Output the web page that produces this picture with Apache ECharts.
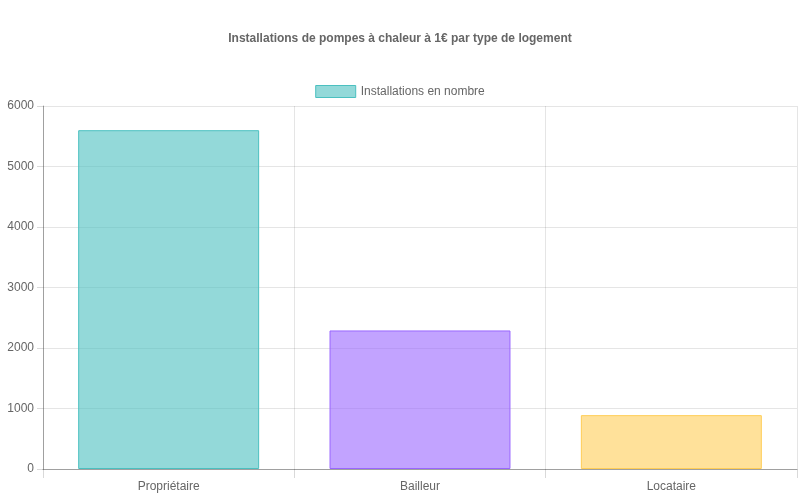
<!DOCTYPE html>
<html lang="fr">
<head>
<meta charset="UTF-8" />
<title>Pompes à chaleur</title>
<script src="https://cdn.jsdelivr.net/npm/echarts@6/dist/echarts.min.js"></script>
<style>
  html, body { margin: 0; padding: 0; background: #fff; }
  #chart { width: 800px; height: 500px; }
</style>
</head>
<body>
<div id="chart"></div>
<script>
const categories = ['Propriétaire', 'Bailleur', 'Locataire'];
const installations = [5600, 2290, 890];
const fills = ['rgba(75,192,192,0.6)', 'rgba(153,102,255,0.6)', 'rgba(255,205,86,0.6)'];
const borders = ['rgb(75,192,192)', 'rgb(153,102,255)', 'rgb(255,205,86)'];

const chart = echarts.init(document.getElementById('chart'));
const font = 'Liberation Sans, Arial, sans-serif';

chart.setOption({
    animation: false,
    textStyle: { fontFamily: font },
    title: {
        text: 'Installations de pompes à chaleur à 1€ par type de logement',
        left: 'center',
        top: 28,
        textStyle: { fontSize: 12, fontWeight: 'bold', color: '#666', fontFamily: font }
    },
    legend: {
        top: 80,
        left: 'center',
        itemWidth: 40,
        itemHeight: 12,
        itemGap: 10,
        icon: 'rect',
        textStyle: { fontSize: 12, color: '#666', fontFamily: font },
        data: [{
            name: 'Installations en nombre',
            itemStyle: { color: fills[0], borderColor: borders[0], borderWidth: 1 }
        }]
    },
    grid: { left: 43, right: 3, top: 106, bottom: 31, containLabel: false },
    xAxis: {
        type: 'category',
        data: categories,
        boundaryGap: true,
        axisLine: { show: true, lineStyle: { color: 'rgba(0,0,0,0.3)' } },
        axisTick: { show: true, length: 9, lineStyle: { color: 'rgba(0,0,0,0.15)' } },
        axisLabel: { color: '#666', fontSize: 12, margin: 12, fontFamily: font },
        splitLine: { show: true, lineStyle: { color: 'rgba(0,0,0,0.1)' } }
    },
    yAxis: {
        type: 'value',
        min: 0,
        max: 6000,
        interval: 1000,
        axisLine: { show: true, lineStyle: { color: 'rgba(0,0,0,0.3)' } },
        axisTick: { show: true, length: 6, lineStyle: { color: 'rgba(0,0,0,0.15)' } },
        axisLabel: { color: '#666', fontSize: 12, margin: 9, fontFamily: font, formatter: v => String(v) },
        splitLine: { show: true, lineStyle: { color: 'rgba(0,0,0,0.1)' } }
    },
    series: [{
        name: 'Installations en nombre',
        type: 'bar',
        barCategoryGap: '28%',
        itemStyle: { color: fills[0], borderColor: borders[0], borderWidth: 1 },
        data: installations.map((v, i) => ({
            value: v,
            itemStyle: { color: fills[i], borderColor: borders[i], borderWidth: 1 }
        }))
    }]
});
</script>
</body>
</html>
